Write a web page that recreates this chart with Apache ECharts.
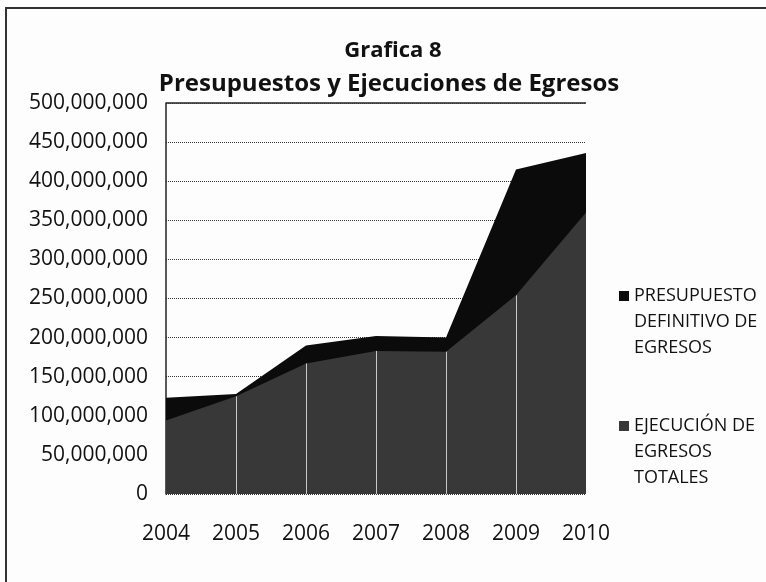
<!DOCTYPE html>
<html>
<head>
<meta charset="utf-8">
<script src="https://cdn.jsdelivr.net/npm/echarts@6/dist/echarts.min.js"></script>
<style>
    html, body { margin: 0; padding: 0; background: #fff; }
    #chart { width: 766px; height: 582px; }
</style>
</head>
<body>
<div id="chart"></div>
<script>
const years = ['2004', '2005', '2006', '2007', '2008', '2009', '2010']
const presupuesto = [123000000, 128000000, 190000000, 202000000, 200000000, 415000000, 436000000]
const ejecucion = [94000000, 125000000, 167000000, 183000000, 182000000, 254000000, 360000000]
const legendNames = ['PRESUPUESTO\nDEFINITIVO DE\nEGRESOS', 'EJECUCIÓN DE\nEGRESOS\nTOTALES']

const fontFamily = '"Open Sans", "DejaVu Sans", sans-serif'

const chart = echarts.init(document.getElementById('chart'))

// thin white drop lines on the grey area (one per inner year)
const dropLines = years.slice(1, 6).map((y, i) => [
    { coord: [y, 0] },
    { coord: [y, ejecucion[i + 1]] }
])

const option = {
    backgroundColor: '#fdfdfd',
    animation: false,
    title: [
        {
            text: 'Grafica 8',
            left: 388,
            top: 35,
            textAlign: 'center',
            textStyle: { fontFamily, fontSize: 22, fontWeight: 'bold', color: '#111' }
        },
        {
            text: 'Presupuestos y Ejecuciones de Egresos',
            left: 384,
            top: 67,
            textAlign: 'center',
            textStyle: { fontFamily, fontSize: 24, fontWeight: 'bold', color: '#111' }
        }
    ],
    legend: {
        orient: 'vertical',
        left: 614,
        top: 226,
        itemWidth: 10,
        itemHeight: 10,
        itemGap: 0,
        icon: 'rect',
        // two empty lines above so the square sits on the first text line
        formatter: name => '\n\n' + name,
        textStyle: {
            fontFamily,
            fontSize: 18,
            lineHeight: 26,
            color: '#111'
        },
        data: legendNames
    },
    grid: {
        left: 166,
        right: 180,
        top: 103,
        bottom: 88
    },
    xAxis: {
        type: 'category',
        data: years,
        boundaryGap: false,
        axisLine: { show: false },
        axisTick: { show: false },
        axisLabel: {
            margin: 30,
            fontFamily,
            fontSize: 21,
            color: '#111'
        }
    },
    yAxis: {
        type: 'value',
        min: 0,
        max: 500000000,
        interval: 50000000,
        axisLine: { show: true, lineStyle: { color: '#222', width: 1.5 } },
        axisTick: { show: false },
        axisLabel: {
            margin: 18,
            fontFamily,
            fontSize: 21,
            color: '#111',
            formatter: v => v.toString().replace(/\B(?=(\d{3})+(?!\d))/g, ',')
        },
        splitLine: {
            show: true,
            lineStyle: { color: '#333', type: 'dotted', width: 1 }
        }
    },
    series: [
        {
            name: legendNames[0],
            type: 'line',
            data: presupuesto,
            symbol: 'none',
            lineStyle: { width: 0 },
            itemStyle: { color: '#0b0b0b' },
            areaStyle: { color: '#0b0b0b', opacity: 1 }
        },
        {
            name: legendNames[1],
            type: 'line',
            data: ejecucion,
            symbol: 'none',
            lineStyle: { width: 0 },
            itemStyle: { color: '#383838' },
            areaStyle: { color: '#383838', opacity: 1 },
            markLine: {
                silent: true,
                symbol: 'none',
                label: { show: false },
                lineStyle: { color: '#c8c8c8', width: 1, type: 'solid' },
                data: dropLines
            }
        }
    ],
    graphic: [
        {
            type: 'line',
            shape: { x1: 166, y1: 103, x2: 586, y2: 103 },
            style: { stroke: '#222', lineWidth: 1.5 }
        },
        {
            type: 'rect',
            shape: { x: 6, y: 8, width: 780, height: 590 },
            style: { fill: 'none', stroke: '#333', lineWidth: 2 }
        }
    ]
}

chart.setOption(option)
</script>
</body>
</html>
